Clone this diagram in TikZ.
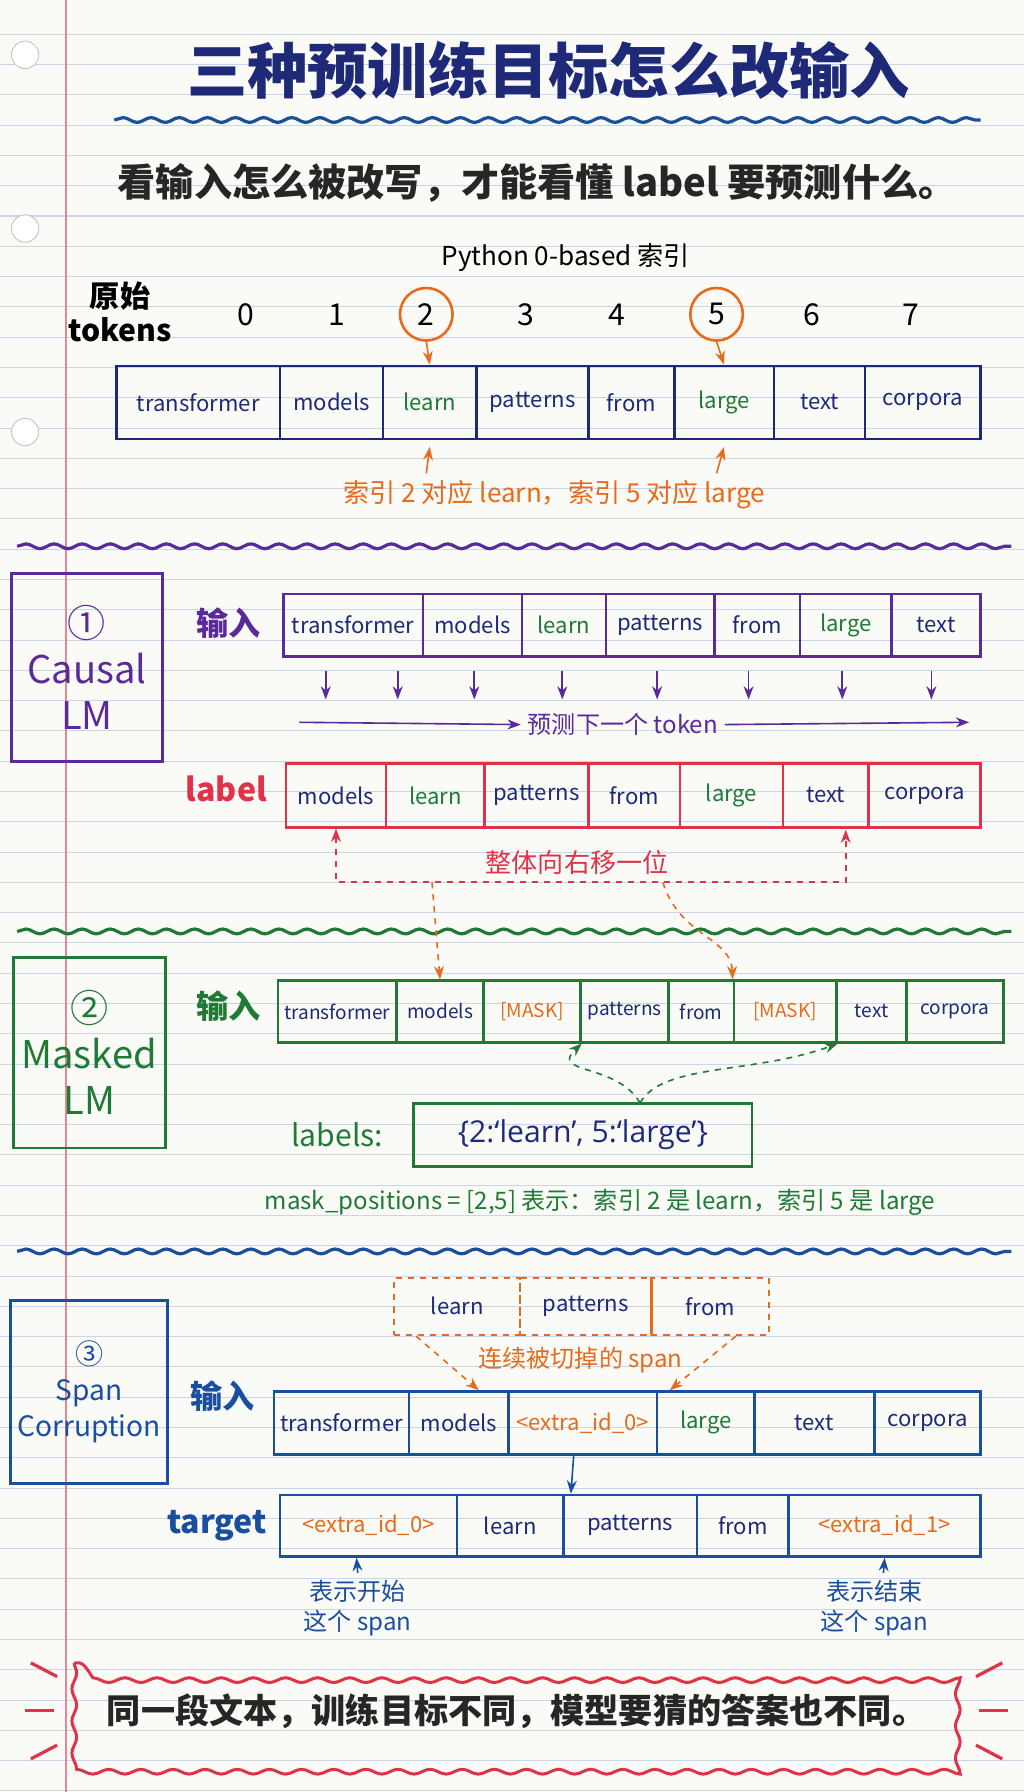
\documentclass[tikz,border=0pt]{standalone}
\usepackage{fontspec}
\setmainfont{Noto Sans CJK SC}
\newfontfamily\latfont{Open Sans}
\usetikzlibrary{arrows.meta, positioning, decorations.pathmorphing, calc}
\definecolor{navy}{HTML}{1E2A78}
\definecolor{pur}{HTML}{5B2A9A}
\definecolor{rd}{HTML}{E0334A}
\definecolor{grn}{HTML}{1E7A35}
\definecolor{org}{HTML}{E86A1A}
\definecolor{blu}{HTML}{1A4FA0}
\definecolor{paper}{HTML}{FAFAF7}
\definecolor{rule}{HTML}{C9D6EA}
\tikzset{
  tok/.style = {draw, line width=1.2pt, inner sep=0pt, minimum height=#1*0.02cm,
                font=\fontsize{11}{13}\selectfont},
  wave/.style = {decorate, decoration={snake, amplitude=1.2pt, segment length=14pt}, line width=1.6pt},
  side/.style = {draw, line width=1.4pt, align=center, font=\fontsize{19}{23}\selectfont},
  tag/.style = {font=\fontsize{16}{18}\selectfont\bfseries},
}
\begin{document}
\begin{tikzpicture}[x=0.02cm, y=-0.02cm, >=Stealth]
% paper
\fill[paper] (0,0) rectangle (896,1568);
\useasboundingbox (0,0) rectangle (896,1568);
\foreach \y in {30,56.5,...,1568} \draw[rule, line width=0.5pt] (0,\y) -- (896,\y);
\draw[rd!60, line width=0.8pt] (58,0) -- (58,1568);
\foreach \y in {48,200,378} \filldraw[fill=white, draw=gray!50] (22,\y) circle (12);

% title
\node[navy, font=\fontsize{30}{34}\selectfont\bfseries] (title) at (480,62) {三种预训练目标怎么改输入};
\draw[wave, blu] (100,105) -- (858,105);
\node[font=\fontsize{19}{22}\selectfont\bfseries, text=black!85] (sub) at (470,160) {看输入怎么被改写，才能看懂 label 要预测什么。};

% raw tokens
\node[font=\fontsize{13}{15}\selectfont] (py) at (495,225) {Python 0-based 索引};
\node[font=\fontsize{15}{17}\selectfont\bfseries, align=center] (raw) at (105,273) {原始\\tokens};
\foreach \i/\x in {0/215,1/295,2/373,3/460,4/540,5/627,6/710,7/797}
  \node[font=\fontsize{15}{17}\selectfont, minimum size=0.7cm] (i\i) at (\x,275) {\i};
\foreach \i in {2,5} \draw[org, line width=1.3pt] (i\i) circle (23);
\foreach \i/\a/\b/\t/\c in {1/102/245/transformer/navy,2/245/335/models/navy,3/335/417/learn/grn,
  4/417/515/patterns/navy,5/515/590/from/navy,6/590/677/large/grn,7/677/757/text/navy,8/757/858/corpora/navy}
  \node[tok=64, navy, text=\c, minimum width={(\b-\a)*0.02cm}] (t\i) at ({(\a+\b)/2},352) {\t};
\draw[->, org, thick] ($(i2.south)+(0,6)$) -- (t3.north);
\draw[->, org, thick] ($(i5.south)+(0,6)$) -- (t6.north);
\node[org, font=\fontsize{13}{15}\selectfont] (map) at (485,433) {索引 2 对应 learn，索引 5 对应 large};
\draw[->, org, thick] ($(map.north)+(-112,0)$) -- ($(t3.south)+(0,6)$);
\draw[->, org, thick] ($(map.north)+(142,0)$) -- ($(t6.south)+(0,6)$);
\draw[wave, pur] (15,478) -- (885,478);

% causal LM
\node[side, pur, minimum width=2.64cm, minimum height=3.3cm] (s1) at (76,584) {①\\Causal\\LM};
\node[tag, pur] (in1) at (200,545) {输入};
\foreach \i/\a/\b/\t/\c in {1/248/370/transformer/navy,2/370/457/models/navy,3/457/530/learn/grn,
  4/530/625/patterns/navy,5/625/700/from/navy,6/700/780/large/grn,7/780/858/text/navy}
  \node[tok=55, pur, text=\c, minimum width={(\b-\a)*0.02cm}] (c\i) at ({(\a+\b)/2},547) {\t};
\foreach \x in {285,348,415,492,575,655,737,815} \draw[->, pur, thick] (\x,587) -- (\x,612);
\node[pur, font=\fontsize{12}{14}\selectfont] (nxt) at (545,634) {预测下一个 token};
\coordinate (nL) at (262,632);
\coordinate (nR) at (848,632);
\draw[->, pur, thick] (nL) -- (nxt.west);
\draw[->, pur, thick] (nxt.east) -- (nR);
\node[tag, rd] (lb1) at (198,690) {label};
\foreach \i/\a/\b/\t/\c in {1/250/338/models/navy,2/338/424/learn/grn,3/424/515/patterns/navy,
  4/515/595/from/navy,5/595/685/large/grn,6/685/760/text/navy,7/760/858/corpora/navy}
  \node[tok=56, rd, text=\c, minimum width={(\b-\a)*0.02cm}] (l\i) at ({(\a+\b)/2},696) {\t};
\node[rd, font=\fontsize{13}{15}\selectfont] (shift) at (505,755) {整体向右移一位};
\coordinate (shR) at (740,726);
\draw[<->, rd, dashed, thick] (l1.south) |- (505,772) -| (shR);

% masked LM
\draw[wave, grn] (15,815) -- (885,815);
\node[side, grn, minimum width=2.66cm, minimum height=3.34cm] (s2) at (78,921) {②\\Masked\\LM};
\node[tag, grn] (in2) at (200,880) {输入};
\foreach \i/\a/\b/\t/\c in {1/243/347/transformer/navy,2/347/423/models/navy,3/423/508/[MASK]/org,
  4/508/585/patterns/navy,5/585/642/from/navy,6/642/732/[MASK]/org,7/732/793/text/navy,8/793/878/corpora/navy}
  \node[tok=54, grn, text=\c, minimum width={(\b-\a)*0.02cm}, font=\fontsize{9.5}{11}\selectfont] (m\i) at ({(\a+\b)/2},885) {\t};
\draw[->, org, dashed, thick] (378,772) -- (m2.north);
\draw[->, org, dashed, thick] (580,772) .. controls (595,820) and (640,820) .. (m6.north west);
\node[tag, grn, font=\fontsize{15}{17}\selectfont] (lbs) at (295,993) {labels:};
\node[draw, grn, line width=1.4pt, minimum width=5.92cm, minimum height=1.1cm, text=navy,
  font=\latfont\fontsize{15}{17}\selectfont] (lbox) at (510,993) {\{2:‘learn’, 5:‘large’\}};
\coordinate (lsrc) at (560,965);
\draw[->, grn, dashed, thick] (lsrc) .. controls (540,930) and (480,940) .. (m3.south east);
\draw[->, grn, dashed, thick] (lsrc) .. controls (580,930) and (660,940) .. (m6.south east);
\node[grn, font=\fontsize{12}{14}\selectfont] (mpos) at (525,1052) {mask\_positions = [2,5] 表示：索引 2 是 learn，索引 5 是 large};

% span corruption
\draw[wave, blu] (15,1095) -- (885,1095);
\node[side, blu, minimum width=2.72cm, minimum height=3.2cm, font=\fontsize{14}{18}\selectfont] (s3) at (78,1218) {③\\Span\\Corruption};
\foreach \i/\a/\b/\t in {1/345/455/learn,2/455/570/patterns,3/570/673/from}
  \node[tok=50, org, dashed, text=navy, minimum width={(\b-\a)*0.02cm}] (d\i) at ({(\a+\b)/2},1143) {\t};
\node[org, font=\fontsize{12}{14}\selectfont] (cut) at (508,1190) {连续被切掉的 span};
\node[tag, blu] (in3) at (195,1222) {输入};
\foreach \i/\a/\b/\t/\c in {1/240/358/transformer/navy,2/358/445/models/navy,3/445/575/<extra\_id\_0>/org,
  4/575/660/large/grn,5/660/765/text/navy,6/765/858/corpora/navy}
  \node[tok=55, blu, text=\c, minimum width={(\b-\a)*0.02cm}] (p\i) at ({(\a+\b)/2},1245) {\t};
\draw[->, org, dashed, thick] ($(d1.south west)+(20,0)$) -- ($(p3.north west)+(-25,0)$);
\draw[->, org, dashed, thick] ($(d3.south east)+(-30,0)$) -- ($(p3.north east)+(10,0)$);
\node[tag, blu] (tg) at (190,1335) {target};
\foreach \i/\a/\b/\t/\c in {1/245/400/<extra\_id\_0>/org,2/400/493/learn/navy,3/493/610/patterns/navy,
  4/610/690/from/navy,5/690/858/<extra\_id\_1>/org}
  \node[tok=54, blu, text=\c, minimum width={(\b-\a)*0.02cm}] (q\i) at ({(\a+\b)/2},1335) {\t};
\draw[->, blu, thick] ($(p3.south)+(-8,0)$) -- ($(q3.north)+(-52,0)$);
\node[blu, align=center, font=\fontsize{12}{15}\selectfont] (st) at (313,1407) {表示开始\\这个 span};
\node[blu, align=center, font=\fontsize{12}{15}\selectfont] (en) at (765,1407) {表示结束\\这个 span};
\draw[->, blu, thick] (st.north) -- ($(q1.south west)+(68,0)$);
\draw[->, blu, thick] ($(en.north)+(8,0)$) -- ($(q5.south east)+(-85,0)$);

% summary
\node[font=\fontsize{17}{20}\selectfont\bfseries, text=black!85] (sum) at (452,1497) {同一段文本，训练目标不同，模型要猜的答案也不同。};
\draw[rd, line width=1.5pt, decorate, decoration={snake, amplitude=1.2pt, segment length=16pt}]
  (65,1455) rectangle (840,1540);
\foreach \s in {-1,1} {
  \draw[rd, line width=1.6pt] ({452+\s*402},1467) -- ({452+\s*425},1455);
  \draw[rd, line width=1.6pt] ({452+\s*405},1497) -- ({452+\s*430},1497);
  \draw[rd, line width=1.6pt] ({452+\s*402},1527) -- ({452+\s*425},1539);
}
\end{tikzpicture}
\end{document}
